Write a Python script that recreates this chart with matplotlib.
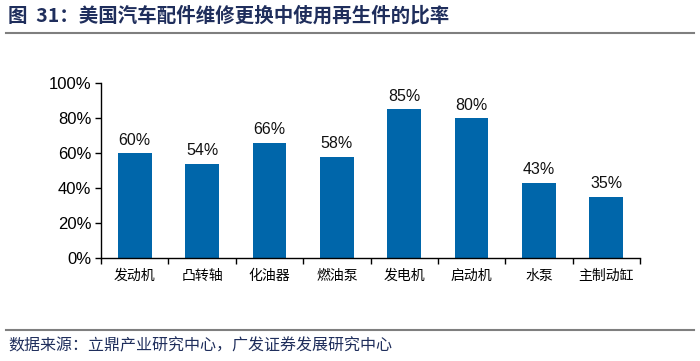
import matplotlib
matplotlib.use("Agg")
import matplotlib.pyplot as plt
from matplotlib.lines import Line2D

plt.rcParams['font.family'] = ['Noto Sans CJK SC', 'DejaVu Sans']

categories = ["发动机", "凸转轴", "化油器", "燃油泵", "发电机", "启动机", "水泵", "主制动缸"]
values = [60, 54, 66, 58, 85, 80, 43, 35]
yticks = [0, 20, 40, 60, 80, 100]
ytick_labels = ["0%", "20%", "40%", "60%", "80%", "100%"]

title = "图  31：美国汽车配件维修更换中使用再生件的比率"
source = "数据来源：立鼎产业研究中心，广发证券发展研究中心"

fig = plt.figure(figsize=(7, 3.61), dpi=100)
ax = fig.add_axes([101/700, 1-258/361, 539/700, 175/361])

x = range(len(categories))
ax.bar(x, values, width=0.5, color="#0066AA", zorder=2)
for xi, v in zip(x, values):
    ax.text(xi, v + 3, f"{v}%", ha="center", va="bottom", fontsize=11.5,
            family=["Liberation Sans", "DejaVu Sans"], color="#111111")

ax.set_xlim(-0.5, len(categories) - 0.5)
ax.set_ylim(0, 100)
ax.set_yticks(yticks)
ax.set_yticklabels(ytick_labels, family=["Liberation Sans", "DejaVu Sans"], fontsize=12)
ax.set_xticks([i - 0.5 for i in range(len(categories) + 1)], minor=False)
ax.set_xticklabels([])
ax.set_xticks(list(x), minor=True)
ax.set_xticklabels(categories, minor=True, fontsize=10)
ax.tick_params(axis="x", which="minor", length=0, pad=8)
ax.tick_params(axis="x", which="major", length=4, direction="out", width=1)
ax.tick_params(axis="y", length=4, direction="out", width=1, pad=3)
for s in ["top", "right"]:
    ax.spines[s].set_visible(False)
ax.spines["left"].set_linewidth(1)
ax.spines["bottom"].set_linewidth(1)

fig.text(8/700, 1-16/361, title, fontsize=14, fontweight="bold", color="#1F2E5C",
         va="center", ha="left")
fig.add_artist(Line2D([6/700, 694/700], [1-33/361, 1-33/361], color="#7F7F7F", lw=1.5,
                      transform=fig.transFigure))
fig.add_artist(Line2D([6/700, 694/700], [1-330/361, 1-330/361], color="#7F7F7F", lw=1.5,
                      transform=fig.transFigure))
fig.text(8/700, 1-346/361, source, fontsize=11.5, color="#1F2E5C", va="center", ha="left")

fig.savefig("out.png", dpi=100)
